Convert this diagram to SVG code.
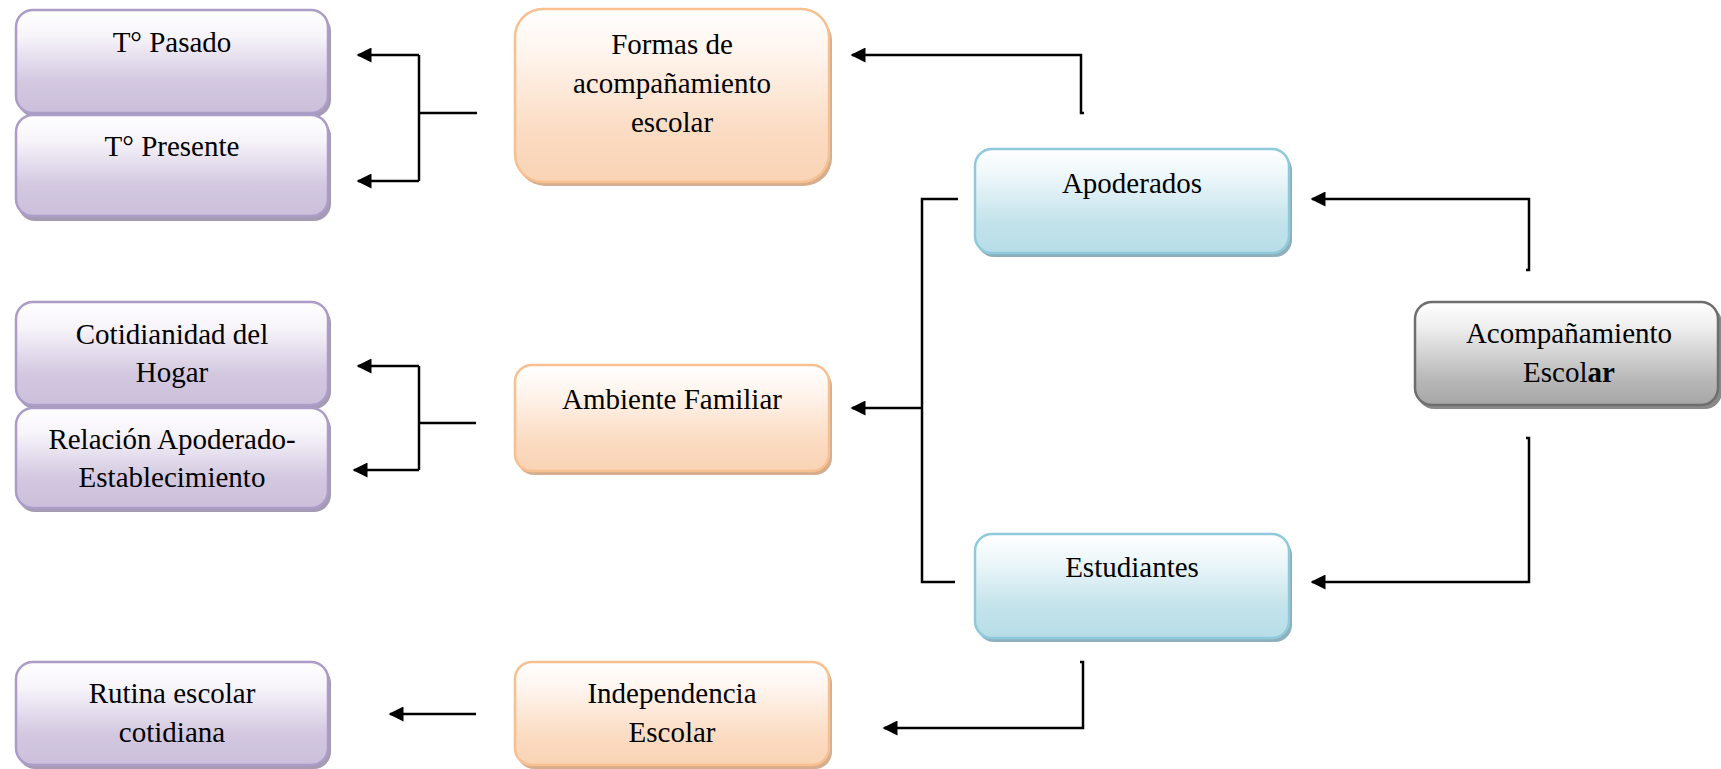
<svg xmlns="http://www.w3.org/2000/svg" width="1721" height="769" viewBox="0 0 1721 769">
<defs>
<linearGradient id="gP" x1="0" y1="0" x2="0" y2="1"><stop offset="0" stop-color="#ffffff"/><stop offset="0.25" stop-color="#f7f4fa"/><stop offset="0.7" stop-color="#d3c8e0"/><stop offset="1" stop-color="#cbbfdb"/></linearGradient>
<linearGradient id="gO" x1="0" y1="0" x2="0" y2="1"><stop offset="0" stop-color="#ffffff"/><stop offset="0.25" stop-color="#fff5ee"/><stop offset="0.7" stop-color="#fbdcc3"/><stop offset="1" stop-color="#f9d3b4"/></linearGradient>
<linearGradient id="gB" x1="0" y1="0" x2="0" y2="1"><stop offset="0" stop-color="#ffffff"/><stop offset="0.25" stop-color="#eef7fa"/><stop offset="0.7" stop-color="#c3e3eb"/><stop offset="1" stop-color="#b8dde7"/></linearGradient>
<linearGradient id="gG" x1="0" y1="0" x2="0" y2="1"><stop offset="0" stop-color="#ffffff"/><stop offset="0.25" stop-color="#eeeeee"/><stop offset="0.75" stop-color="#b8b8b8"/><stop offset="1" stop-color="#a6a6a6"/></linearGradient>
<marker id="ah" viewBox="0 0 10 10" refX="9" refY="5" markerWidth="7" markerHeight="6" markerUnits="strokeWidth" orient="auto"><path d="M0,0 L10,5 L0,10 Z" fill="#000"/></marker>
</defs>
<style>
text{font-family:'Liberation Serif',serif;font-size:29px;fill:#000;text-anchor:middle}
.p{fill:url(#gP);stroke:#ab9dc8;stroke-width:2.5}
.ps{fill:#a59cb3}
.o{fill:url(#gO);stroke:#f8bf8f;stroke-width:2.5}
.os{fill:#d4ae8e}
.b{fill:url(#gB);stroke:#8ecadb;stroke-width:2.5}
.bs{fill:#8fb0ba}
.g{fill:url(#gG);stroke:#6e6e6e;stroke-width:2.5}
.gs{fill:#8a8a8a}
.c{fill:none;stroke:#000;stroke-width:2.5}
</style>
<g id="n-pasado">
<rect class="ps" x="18" y="14" width="313" height="103" rx="17"/>
<rect class="p" x="16" y="10" width="312" height="103" rx="17"/>
<text x="172" y="52" font-family="Liberation Serif, serif">T° Pasado</text>
</g>
<g id="n-presente">
<rect class="ps" x="18" y="119" width="313" height="102" rx="17"/>
<rect class="p" x="16" y="115" width="312" height="101" rx="17"/>
<text x="172" y="156" font-family="Liberation Serif, serif">T° Presente</text>
</g>
<g id="n-formas">
<rect class="os" x="517" y="13" width="315" height="173" rx="28"/>
<rect class="o" x="515" y="9" width="314" height="173" rx="28"/>
<text x="672" y="54" font-family="Liberation Serif, serif">Formas de</text>
<text x="672" y="93" font-family="Liberation Serif, serif">acompañamiento</text>
<text x="672" y="132" font-family="Liberation Serif, serif">escolar</text>
</g>
<g id="n-apoderados">
<rect class="bs" x="977" y="153" width="315" height="104" rx="17"/>
<rect class="b" x="975" y="149" width="314" height="104" rx="17"/>
<text x="1132" y="193" font-family="Liberation Serif, serif">Apoderados</text>
</g>
<g id="n-acomp">
<rect class="gs" x="1417" y="306" width="305" height="103" rx="17"/>
<rect class="g" x="1415" y="302" width="303" height="103" rx="17"/>
<text x="1569" y="343" font-family="Liberation Serif, serif">Acompañamiento</text>
<text x="1569" y="382" font-family="Liberation Serif, serif">Escol<tspan font-weight="bold">ar</tspan></text>
</g>
<g id="n-cotidianidad">
<rect class="ps" x="18" y="306" width="313" height="103" rx="17"/>
<rect class="p" x="16" y="302" width="312" height="103" rx="17"/>
<text x="172" y="344" font-family="Liberation Serif, serif">Cotidianidad del</text>
<text x="172" y="382" font-family="Liberation Serif, serif">Hogar</text>
</g>
<g id="n-relacion">
<rect class="ps" x="18" y="412" width="313" height="100" rx="17"/>
<rect class="p" x="16" y="408" width="312" height="100" rx="17"/>
<text x="172" y="449" font-family="Liberation Serif, serif">Relación Apoderado-</text>
<text x="172" y="487" font-family="Liberation Serif, serif">Establecimiento</text>
</g>
<g id="n-ambiente">
<rect class="os" x="517" y="369" width="315" height="106" rx="17"/>
<rect class="o" x="515" y="365" width="314" height="106" rx="17"/>
<text x="672" y="409" font-family="Liberation Serif, serif">Ambiente Familiar</text>
</g>
<g id="n-estudiantes">
<rect class="bs" x="977" y="538" width="315" height="104" rx="17"/>
<rect class="b" x="975" y="534" width="314" height="104" rx="17"/>
<text x="1132" y="577" font-family="Liberation Serif, serif">Estudiantes</text>
</g>
<g id="n-rutina">
<rect class="ps" x="18" y="666" width="313" height="103" rx="17"/>
<rect class="p" x="16" y="662" width="312" height="103" rx="17"/>
<text x="172" y="703" font-family="Liberation Serif, serif">Rutina escolar</text>
<text x="172" y="742" font-family="Liberation Serif, serif">cotidiana</text>
</g>
<g id="n-independencia">
<rect class="os" x="517" y="666" width="315" height="103" rx="17"/>
<rect class="o" x="515" y="662" width="314" height="103" rx="17"/>
<text x="672" y="703" font-family="Liberation Serif, serif">Independencia</text>
<text x="672" y="742" font-family="Liberation Serif, serif">Escolar</text>
</g>
<g id="connectors">
<path class="c" d="M477,113 H419"/>
<path class="c" d="M419,55 V181"/>
<path class="c" d="M419,55 H358" marker-end="url(#ah)"/>
<path class="c" d="M419,181 H358" marker-end="url(#ah)"/>
<path class="c" d="M1084,113 H1081 V55 H852" marker-end="url(#ah)"/>
<path class="c" d="M1526,270 H1529 V199 H1312" marker-end="url(#ah)"/>
<path class="c" d="M1526,438 H1529 V582 H1312" marker-end="url(#ah)"/>
<path class="c" d="M958,199 H922 V582 H955"/>
<path class="c" d="M922,408 H852" marker-end="url(#ah)"/>
<path class="c" d="M476,423 H419"/>
<path class="c" d="M419,366 V470"/>
<path class="c" d="M419,366 H358" marker-end="url(#ah)"/>
<path class="c" d="M419,470 H354" marker-end="url(#ah)"/>
<path class="c" d="M1080,662 H1083 V728 H884" marker-end="url(#ah)"/>
<path class="c" d="M476,714 H390" marker-end="url(#ah)"/>
</g>
</svg>
